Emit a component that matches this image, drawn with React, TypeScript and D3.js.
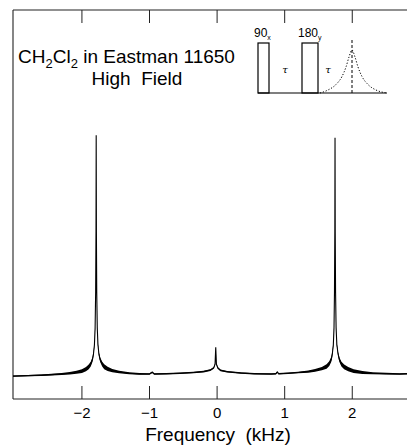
import React from "react";
import * as d3 from "d3";

// spectrum trace: frequency (kHz), level (peak = 100), noise half-width
const specFreq = [
  -3.02, -2.8, -2.6, -2.45, -2.3, -2.18, -2.08, -2.0, -1.94, -1.9, -1.87, -1.845, -1.83, -1.815,
  -1.805, -1.797, -1.792, -1.789, -1.786, -1.781, -1.773, -1.763, -1.748, -1.73, -1.7, -1.67,
  -1.62, -1.55, -1.45, -1.3, -1.15, -1.0, -0.96, -0.93, -0.75, -0.55, -0.35, -0.2, -0.1, -0.05,
  -0.03, -0.02, -0.01, 0.01, 0.05, 0.15, 0.35, 0.55, 0.8, 0.87, 0.89, 0.91, 1.05, 1.2, 1.35,
  1.45, 1.55, 1.62, 1.66, 1.69, 1.705, 1.72, 1.73, 1.737, 1.742, 1.745, 1.748, 1.753, 1.761,
  1.772, 1.79, 1.81, 1.84, 1.88, 1.94, 2.02, 2.15, 2.3, 2.5, 2.7, 2.81,
];
const specLevel = [
  0.0, 0.2, 0.4, 0.6, 0.9, 1.2, 1.6, 2.1, 2.9, 3.8, 5.0, 6.8, 9.0, 13,
  20, 35, 60, 100, 60, 35, 20, 13, 9.0, 6.8, 5.0, 3.9,
  3.0, 2.3, 1.7, 1.2, 0.9, 0.9, 1.6, 0.9, 1.0, 1.2, 1.5, 1.9, 2.5, 3.4,
  5.0, 12, 5.0, 3.4, 2.4, 1.8, 1.3, 1.0, 0.9, 1.0, 1.7, 1.0, 1.2, 1.5, 1.9,
  2.4, 3.1, 4.0, 5.2, 7.0, 9.2, 13, 20, 35, 60, 99, 60, 35, 20,
  13, 9.2, 6.8, 5.0, 3.8, 2.9, 2.1, 1.5, 1.2, 1.0, 0.9, 1.0,
];
const specSpread = [
  0.3, 0.3, 0.3, 0.35, 0.4, 0.5, 0.6, 0.8, 0.9, 1.0, 1.0, 0.9, 0.8, 0.6,
  0.4, 0.3, 0.2, 0, 0.2, 0.3, 0.4, 0.6, 0.8, 0.9, 1.0, 1.0,
  0.9, 0.7, 0.55, 0.45, 0.35, 0.3, 0.3, 0.3, 0.3, 0.3, 0.3, 0.35, 0.35, 0.35,
  0.3, 0, 0.3, 0.35, 0.35, 0.3, 0.3, 0.3, 0.3, 0.3, 0.3, 0.3, 0.3, 0.35, 0.45,
  0.55, 0.7, 0.9, 1.0, 1.0, 0.9, 0.6, 0.4, 0.3, 0.2, 0, 0.2, 0.3, 0.4,
  0.6, 0.8, 0.9, 1.0, 1.0, 0.9, 0.8, 0.6, 0.45, 0.35, 0.3, 0.3,
];
const xTicks = [-2, -1, 0, 1, 2];

// pulse sequence inset (arbitrary time units)
const pulses = [
  { label: "90", sub: "x", start: 0, end: 11 },
  { label: "180", sub: "y", start: 44, end: 60 },
];
const tauMarks = [27, 70];
const echoCenter = 94;
const echoT = [-32, -24, -16, -10, -6, -3, 0, 3, 6, 10, 16, 24, 32, 35];
const echoV = [0.0, 0.06, 0.17, 0.33, 0.52, 0.72, 0.86, 0.72, 0.52, 0.33, 0.17, 0.06, 0.01, 0];

const W = 407;
const H = 447;
const L = 13;
const R = 407;
const T = 10;
const B = 399;
const font = "'Liberation Sans', Arial, Helvetica, sans-serif";

export default function App() {
  const x = d3.scaleLinear().domain([-3.02, 2.81]).range([L, R]);
  const y = d3.scaleLinear().domain([-9.5, 152]).range([B, T]);

  const rows = specFreq.map((f, i) => ({ f, v: specLevel[i], s: specSpread[i] }));
  const line = d3
    .line<any>()
    .x((d) => x(d.f))
    .y((d) => y(d.v));
  const band = d3
    .area<any>()
    .x((d) => x(d.f))
    .y0((d) => y(d.v - d.s))
    .y1((d) => y(d.v + d.s));

  // inset scales
  const ix = d3.scaleLinear().domain([0, 129]).range([258, 387]);
  const iy = d3.scaleLinear().domain([0, 1]).range([93, 43]);
  const echo = d3
    .line<number>()
    .x((t) => ix(echoCenter + t))
    .y((_, i) => iy(echoV[i]))
    .curve(d3.curveMonotoneX);

  const fmt = d3.format("d");

  return (
    <svg
      width={W}
      height={H}
      style={{ position: "absolute", left: 0, top: 0, background: "#fff" }}
      fontFamily={font}
    >
      {/* frame */}
      <g stroke="#222" strokeWidth={1.1} fill="none">
        <line x1={L} x2={R} y1={T} y2={T} />
        <line x1={L} x2={R} y1={B} y2={B} />
        <line x1={L} x2={L} y1={T} y2={B} />
      </g>

      {/* ticks */}
      {xTicks.map((t) => (
        <g key={t} stroke="#222" strokeWidth={1}>
          <line x1={x(t)} x2={x(t)} y1={T} y2={T + 13} />
          <line x1={x(t)} x2={x(t)} y1={B} y2={B - 13} />
        </g>
      ))}
      {xTicks.map((t) => (
        <text key={"l" + t} x={x(t)} y={418} fontSize={15} textAnchor="middle" fill="#000">
          {fmt(t)}
        </text>
      ))}
      <text x={218} y={441} fontSize={19} textAnchor="middle" fill="#000" xmlSpace="preserve">
        {"Frequency  (kHz)"}
      </text>

      {/* spectrum */}
      <path d={band(rows) || ""} fill="#000" stroke="none" />
      <path d={line(rows) || ""} fill="none" stroke="#000" strokeWidth={1.1} />

      {/* title */}
      <text x={18} y={63} fontSize={19} fill="#000">
        CH<tspan fontSize={13} dy={5}>2</tspan>
        <tspan dy={-5}>Cl</tspan>
        <tspan fontSize={13} dy={5}>2</tspan>
        <tspan dy={-5}> in Eastman 11650</tspan>
      </text>
      <text x={137} y={85} fontSize={19} textAnchor="middle" fill="#000" xmlSpace="preserve">
        {"High  Field"}
      </text>

      {/* pulse sequence inset */}
      <g stroke="#000" fill="none" strokeWidth={1.2}>
        <line x1={ix(0)} x2={ix(129)} y1={iy(0)} y2={iy(0)} />
        {pulses.map((p) => (
          <rect
            key={p.label}
            x={ix(p.start)}
            y={iy(1)}
            width={ix(p.end) - ix(p.start)}
            height={iy(0) - iy(1)}
          />
        ))}
        <line
          x1={ix(echoCenter)}
          x2={ix(echoCenter)}
          y1={40}
          y2={iy(0)}
          strokeDasharray="3,2"
          strokeWidth={1}
        />
        <path d={echo(echoT) || ""} strokeDasharray="1.2,1.8" strokeWidth={1} />
      </g>
      {pulses.map((p) => (
        <text key={"p" + p.label} x={ix(p.start) - 4} y={37} fontSize={12} fill="#000">
          {p.label}
          <tspan fontSize={7} dy={3}>
            {p.sub}
          </tspan>
        </text>
      ))}
      {tauMarks.map((t, i) => (
        <text
          key={"tau" + i}
          x={ix(t)}
          y={73}
          fontSize={10}
          fontStyle="italic"
          textAnchor="middle"
          fill="#000"
          fontFamily="'DejaVu Serif', serif"
        >
          τ
        </text>
      ))}
    </svg>
  );
}
